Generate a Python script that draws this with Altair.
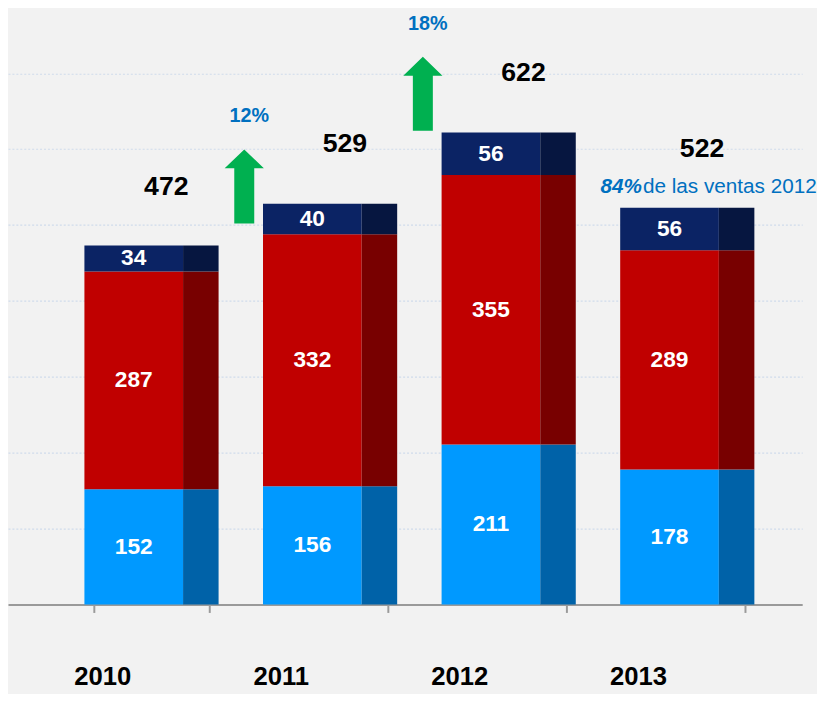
import altair as alt
import pandas as pd

# ---- data ----
years = ["2010", "2011", "2012", "2013"]
cyan_vals = [152, 156, 211, 178]
red_vals = [287, 332, 355, 289]
navy_vals = [34, 40, 56, 56]
totals = [472, 529, 622, 522]

growth_years = ["2011", "2012"]
growth_labels = ["12%", "18%"]
growth_arrow_y = [551, 673]

note_year = "2013"
note_bold = "84%"
note_text = "de las ventas 2012"

segments = ["base", "mid", "top"]
front_colors = ["#0099FF", "#C00000", "#0B2364"]
side_colors = ["#0062A8", "#780000", "#061640"]

FONT = "Liberation Sans, Arial, sans-serif"

rows = []
for i, yr in enumerate(years):
    start = 0
    for k, (seg, vals) in enumerate(zip(segments, [cyan_vals, red_vals, navy_vals])):
        v = vals[i]
        rows.append(dict(year=yr, segment=seg, value=v, y0=start, y1=start + v,
                         ymid=start + v / 2, order=k))
        start += v
df = pd.DataFrame(rows)
df_tot = pd.DataFrame({"year": years, "total": totals})
df_gr = pd.DataFrame({"year": growth_years, "label": growth_labels, "ay": growth_arrow_y})
df_note = pd.DataFrame({"year": [note_year], "total": [totals[years.index(note_year)]],
                        "bold": [note_bold], "text": [note_text]})

xscale = alt.Scale(domain=years, paddingInner=0.353, paddingOuter=0.4, align=0.6)
xaxis = alt.Axis(title=None, labelAngle=0, labelFont=FONT, labelFontSize=26,
                 labelFontWeight="bold", labelColor="black", labelPadding=52,
                 labelOffset=-50, tickBand="extent", tickColor="#9a9a9a", tickSize=8,
                 tickWidth=2, domainColor="#9a9a9a", domainWidth=2)
yscale = alt.Scale(domain=[0, 780], nice=False, zero=True)
yaxis = alt.Axis(title=None, labels=False, ticks=False, domain=False, grid=True,
                 gridColor="#cfdbeb", gridDash=[2, 2], gridWidth=1.2,
                 values=[100, 200, 300, 400, 500, 600, 700])

X = alt.X("year:N", scale=xscale, axis=xaxis)

front = alt.Chart(df).mark_bar(width=100, xOffset=-18).encode(
    x=X,
    y=alt.Y("y0:Q", scale=yscale, axis=yaxis),
    y2="y1:Q",
    color=alt.Color("segment:N", scale=alt.Scale(domain=segments, range=front_colors), legend=None),
)

side = alt.Chart(df).mark_bar(width=36, xOffset=50).encode(
    x=X,
    y=alt.Y("y0:Q", scale=yscale, axis=yaxis),
    y2="y1:Q",
    color=alt.Color("segment:N", scale=alt.Scale(domain=segments, range=side_colors), legend=None),
)

seg_labels = alt.Chart(df).mark_text(font=FONT, fontSize=23, fontWeight="bold",
                                     color="white", xOffset=-18, baseline="middle").encode(
    x=X, y=alt.Y("ymid:Q", scale=yscale), text="value:Q")

tot_labels = alt.Chart(df_tot).mark_text(font=FONT, fontSize=27, fontWeight="bold",
                                         color="black", dy=-60, xOffset=15,
                                         baseline="middle").encode(
    x=X, y=alt.Y("total:Q", scale=yscale), text="total:Q")

arrow_path = ("M -0.27 1 L -0.27 -0.49 L -0.53 -0.49 L 0 -1 L 0.53 -0.49 "
              "L 0.27 -0.49 L 0.27 1 Z")
arrows = alt.Chart(df_gr).mark_point(shape=arrow_path, size=5625, filled=True,
                                     color="#00B050", opacity=1, strokeWidth=0,
                                     xOffset=-87).encode(
    x=X, y=alt.Y("ay:Q", scale=yscale))

pct = alt.Chart(df_gr).mark_text(font=FONT, fontSize=20, fontWeight="bold",
                                 color="#0070C0", xOffset=-82, dy=-71,
                                 baseline="middle").encode(
    x=X, y=alt.Y("ay:Q", scale=yscale), text="label:N")

note_b = alt.Chart(df_note).mark_text(font=FONT, fontSize=21, fontWeight="bold",
                                      fontStyle="italic", color="#0070C0", align="right",
                                      xOffset=-46, dy=-22, baseline="middle").encode(
    x=X, y=alt.Y("total:Q", scale=yscale), text="bold:N")

note_t = alt.Chart(df_note).mark_text(font=FONT, fontSize=21, color="#0070C0",
                                      align="left", xOffset=-45, dy=-22,
                                      baseline="middle").encode(
    x=X, y=alt.Y("total:Q", scale=yscale), text="text:N")

chart = alt.layer(front, side, seg_labels, tot_labels, arrows, pct, note_b, note_t).resolve_scale(
    color="independent"
).properties(width=805, height=600, padding=0).configure(
    background="#F2F2F2"
).configure_view(stroke=None)

chart.save("out.html", embed_options={"renderer": "svg", "actions": False})
